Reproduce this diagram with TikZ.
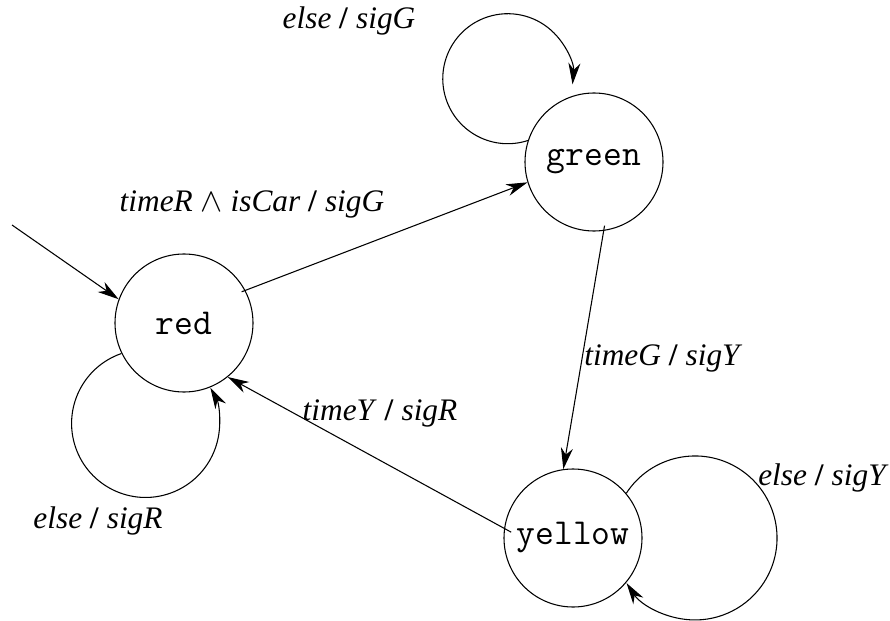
\documentclass[tikz,border=0pt]{standalone}
\usepackage{fontspec}
\setmainfont{Liberation Serif}
\usetikzlibrary{arrows.meta}
\newcommand{\slsh}{\textup{\textbf{/}}}
\begin{document}
\begin{tikzpicture}[x=0.75pt,y=-0.75pt,
  state/.style={draw,circle,line width=0.8pt,minimum size=103.5pt,inner sep=0pt,font=\ttfamily\fontsize{27.4}{30}\selectfont},
  trans/.style={line width=0.8pt,-{Stealth[length=16pt,width=9pt,inset=5pt]}},
  lbl/.style={font=\itshape\fontsize{23.5}{28}\selectfont,inner sep=0pt}]
\useasboundingbox (0,0) rectangle (890,621);
\node[state] (red) at (184,323) {red};
\node[state] (green) at (594,162) {green};
\node[state] (yellow) at (573,538) {yellow};
\coordinate (init) at (12,225);
\draw[trans] (init) -- (red.160);
\draw[trans,shorten <=-3pt] (red.28) -- (green.197);
\draw[trans,shorten <=-4pt] (green.278) -- (yellow.98);
\draw[trans,shorten <=-6pt] (yellow.172) -- (red.309);
\draw[trans] (red.206) arc[start angle=109,end angle=389,radius=55.5pt];
\draw[trans] (green.162) arc[start angle=288,end angle=-5,radius=48.75pt];
\draw[trans] (yellow.40) arc[start angle=147,end angle=-146.6,radius=61.5pt];
\node[lbl] (lgg) at (349,21) {else \slsh{} sigG};
\node[lbl] (lrg) at (252,204) {timeR $\wedge$ isCar \slsh{} sigG};
\node[lbl] (lgy) at (662,358) {timeG \slsh{} sigY};
\node[lbl] (lyr) at (380,413) {timeY \slsh{} sigR};
\node[lbl] (lrr) at (98,521) {else \slsh{} sigR};
\node[lbl] (lyy) at (822,478) {else \slsh{} sigY};
\end{tikzpicture}
\end{document}
